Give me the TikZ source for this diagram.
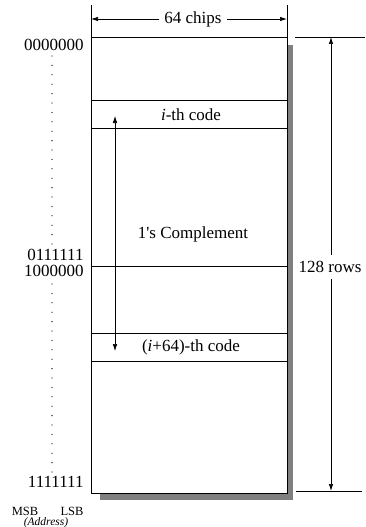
\documentclass[tikz,border=0pt]{standalone}
\usepackage{fontspec}
\setmainfont{Liberation Serif}
\usetikzlibrary{arrows.meta}
\begin{document}
\begin{tikzpicture}[x=1pt,y=-1pt, line width=0.8pt,
  lbl/.style={font=\fontsize{17}{20}\selectfont, inner sep=0pt},
  small/.style={font=\fontsize{12.5}{14}\selectfont, inner sep=0pt},
  tiny/.style={font=\fontsize{11.5}{13}\itshape, inner sep=0pt},
  tip/.style={-{Latex[length=7pt,width=4.4pt]}, line width=0.7pt},
  dtip/.style={{Latex[length=7pt,width=4.6pt]}-{Latex[length=7pt,width=4.6pt]}, line width=0.7pt},
  ext/.style={line width=0.7pt},
  shade/.style={fill=black!50, draw=none},
  dotcol/.style={line width=1.3pt, dash pattern=on 0pt off 9.4pt, line cap=round}]
\useasboundingbox (0,0) rectangle (366,527);
% drop shadow
\fill[shade] (287,45) rectangle (293,500);
\fill[shade] (100,493) rectangle (293,500);
% memory block
\node[draw, line width=0.9pt, minimum width=196pt, minimum height=456pt, inner sep=0pt, outer sep=0pt, anchor=north west, fill=white] (mem) at (91,37) {};
% row lines
\foreach \yy/\nm in {100/ra, 128/rb, 266/rm, 333/rc, 361/rd}{
  \coordinate (\nm w) at (91,\yy);
  \coordinate (\nm e) at (287,\yy);
  \draw[line width=0.8pt] (\nm w) -- (\nm e);
}
% texts in block
\node[lbl] (icode) at (191,115) {\textit{i}-th code};
\node[lbl] (comp) at (193,234) {1\textquotesingle s Complement};
\node[lbl] (jcode) at (191,347) {(\textit{i}+64)-th code};
% link arrow
\coordinate (ua) at (115,116);
\coordinate (da) at (115,351);
\draw[dtip] (ua) -- (da);
% top dimension
\coordinate (tl) at (91,5);
\coordinate (tr) at (287,5);
\coordinate (tla) at (91,19);
\coordinate (tra) at (287,19);
\draw[ext] (mem.north west) -- (tl);
\draw[ext] (mem.north east) -- (tr);
\node[lbl, inner xsep=5pt] (chips) at (193,19) {64 chips};
\draw[tip] (chips.west) -- (tla);
\draw[tip] (chips.east) -- (tra);
% right dimension
\coordinate (rt1) at (295,37);
\coordinate (rt2) at (365,37);
\coordinate (rb1) at (296,491);
\coordinate (rb2) at (362,491);
\coordinate (rta) at (331,37);
\coordinate (rba) at (331,491);
\draw[ext] (rt1) -- (rt2);
\draw[ext] (rb1) -- (rb2);
\node[lbl, inner ysep=6pt] (rows) at (330,267) {128 rows};
\draw[tip] (rows.north -| rta) -- (rta);
\draw[tip] (rows.south -| rba) -- (rba);
% address labels
\node[lbl, anchor=east] (a0) at (84,45) {0000000};
\node[lbl, anchor=east] (a1) at (84,255) {0111111};
\node[lbl, anchor=east] (a2) at (84,271) {1000000};
\node[lbl, anchor=east] (a3) at (84,482) {1111111};
\coordinate (d1) at (52,56);
\coordinate (d2) at (52,246);
\coordinate (d3) at (52,284);
\coordinate (d4) at (52,472);
\draw[dotcol] (d1) -- (d2);
\draw[dotcol] (d3) -- (d4);
\node[small] (msb) at (25,511) {MSB};
\node[small] (lsb) at (72,511) {LSB};
\node[tiny] (addr) at (46,523) {(Address)};
\end{tikzpicture}
\end{document}
